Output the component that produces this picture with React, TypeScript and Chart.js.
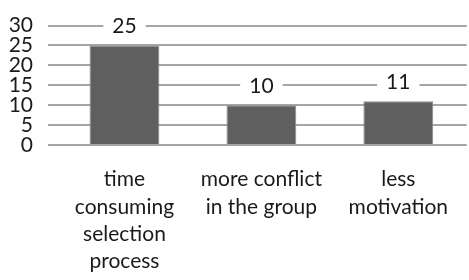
import React, { useEffect, useRef } from "react";
import { Chart, registerables } from "chart.js";

Chart.register(...registerables);

const categories: string[][] = [
  ["time", "consuming", "selection", "process"],
  ["more conflict", "in the group"],
  ["less", "motivation"],
];
const values: number[] = [25, 10, 11];
const yTicks: number[] = [0, 5, 10, 15, 20, 25, 30];

const FONT = "Lato, 'Open Sans', sans-serif";
const FONT_SIZE = 21;

const labelPlugin = {
  id: "valueLabels",
  afterDatasetsDraw(chart: any) {
    const ctx = chart.ctx;
    const meta = chart.getDatasetMeta(0);
    ctx.save();
    ctx.font = `${FONT_SIZE}px ${FONT}`;
    ctx.textAlign = "center";
    ctx.textBaseline = "middle";
    meta.data.forEach((bar: any, i: number) => {
      const txt = String(values[i]);
      const w = ctx.measureText(txt).width;
      const x = bar.x;
      const y = bar.y - 20;
      ctx.fillStyle = "#ffffff";
      ctx.fillRect(x - w / 2 - 9, y - 11, w + 18, 22);
      ctx.fillStyle = "#1a1a1a";
      ctx.fillText(txt, x, y + 1);
    });
    ctx.restore();
  },
};

export default function App() {
  const ref = useRef<HTMLCanvasElement | null>(null);
  useEffect(() => {
    if (!ref.current) return;
    const chart = new Chart(ref.current, {
      type: "bar",
      data: {
        labels: categories,
        datasets: [
          {
            data: values,
            backgroundColor: "#5f5f5f",
            borderColor: "#8a8a8a",
            borderWidth: 1,
            categoryPercentage: 1,
            barPercentage: 0.51,
          },
        ],
      },
      options: {
        animation: false,
        responsive: true,
        maintainAspectRatio: false,
        layout: { padding: { top: 17, right: 0, left: 0, bottom: 0 } },
        plugins: { legend: { display: false }, tooltip: { enabled: false } },
        scales: {
          x: {
            grid: { display: false, drawTicks: false },
            border: { display: false },
            ticks: {
              color: "#1a1a1a",
              font: { family: FONT, size: FONT_SIZE, lineHeight: 1.3 },
              padding: 21,
              maxRotation: 0,
              autoSkip: false,
            },
            afterFit: (s: any) => {
              s.height = 135;
            },
          },
          y: {
            min: 0,
            max: 30,
            afterBuildTicks: (s: any) => {
              s.ticks = yTicks.map((v) => ({ value: v }));
            },
            grid: { color: "#a6a6a6", lineWidth: 2, tickLength: 8, drawTicks: true },
            border: { display: false },
            ticks: {
              color: "#1a1a1a",
              font: { family: FONT, size: FONT_SIZE, lineHeight: 1 },
              padding: 15,
              autoSkip: false,
            },
            afterFit: (s: any) => {
              s.width = 56;
            },
          },
        },
      },
      plugins: [labelPlugin],
    });
    return () => chart.destroy();
  }, []);
  return (
    <div style={{ position: "fixed", left: 0, top: 0, width: 469, height: 280, background: "#fff" }}>
      <canvas ref={ref} />
    </div>
  );
}
